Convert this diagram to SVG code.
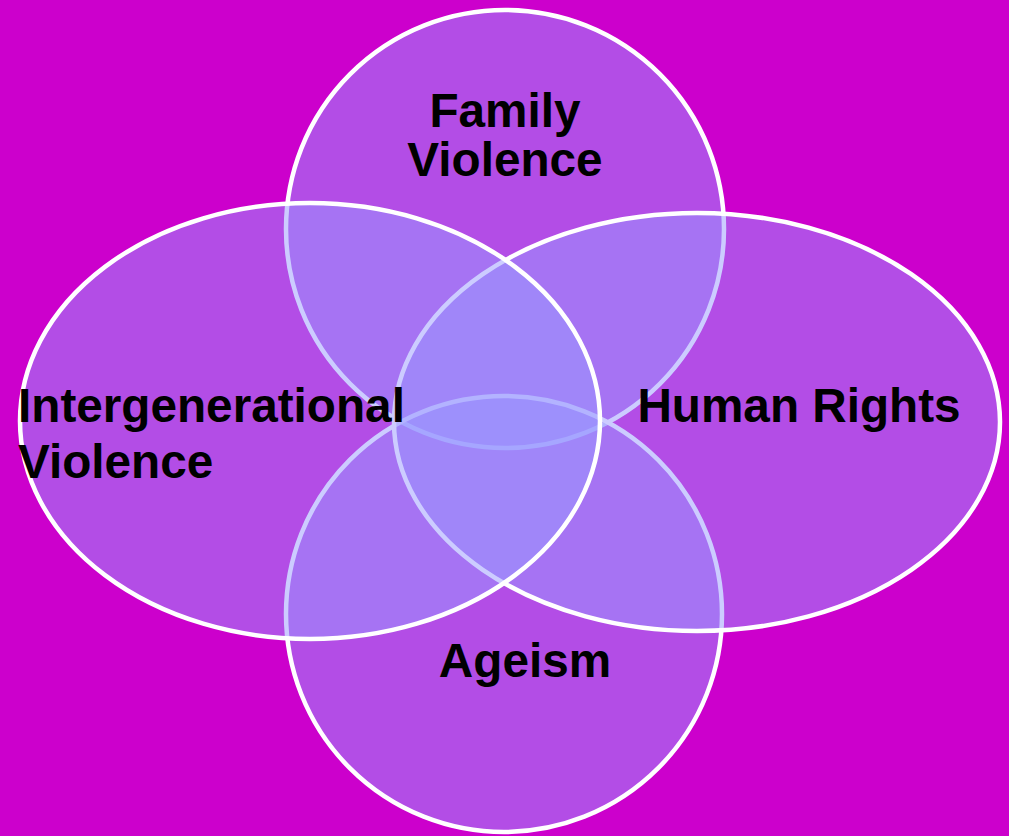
<svg xmlns="http://www.w3.org/2000/svg" width="1009" height="836" viewBox="0 0 1009 836">
<style>
.set{fill:#9999FF;fill-opacity:0.5;stroke:#FFFFFF;stroke-width:4.5}
.lbl{font-family:"Liberation Sans",Arial,sans-serif;font-weight:bold;font-size:47.7px;fill:#000000}
</style>
<rect x="0" y="0" width="1009" height="836" fill="#CC00CC"/>
<g id="family-violence"><ellipse class="set" cx="505" cy="229" rx="219" ry="219"/></g>
<g id="ageism"><ellipse class="set" cx="504" cy="614" rx="218" ry="218"/></g>
<g id="human-rights"><ellipse class="set" cx="697" cy="422" rx="303" ry="209"/></g>
<g id="intergenerational-violence"><ellipse class="set" cx="310" cy="421" rx="290" ry="218"/></g>
<g id="labels">
<text class="lbl" x="505" y="127" text-anchor="middle">Family</text>
<text class="lbl" x="505" y="176" text-anchor="middle">Violence</text>
<text class="lbl" x="18" y="422">Intergenerational</text>
<text class="lbl" x="18" y="478">Violence</text>
<text class="lbl" x="799" y="422" text-anchor="middle">Human Rights</text>
<text class="lbl" x="525" y="677" text-anchor="middle">Ageism</text>
</g>
</svg>
